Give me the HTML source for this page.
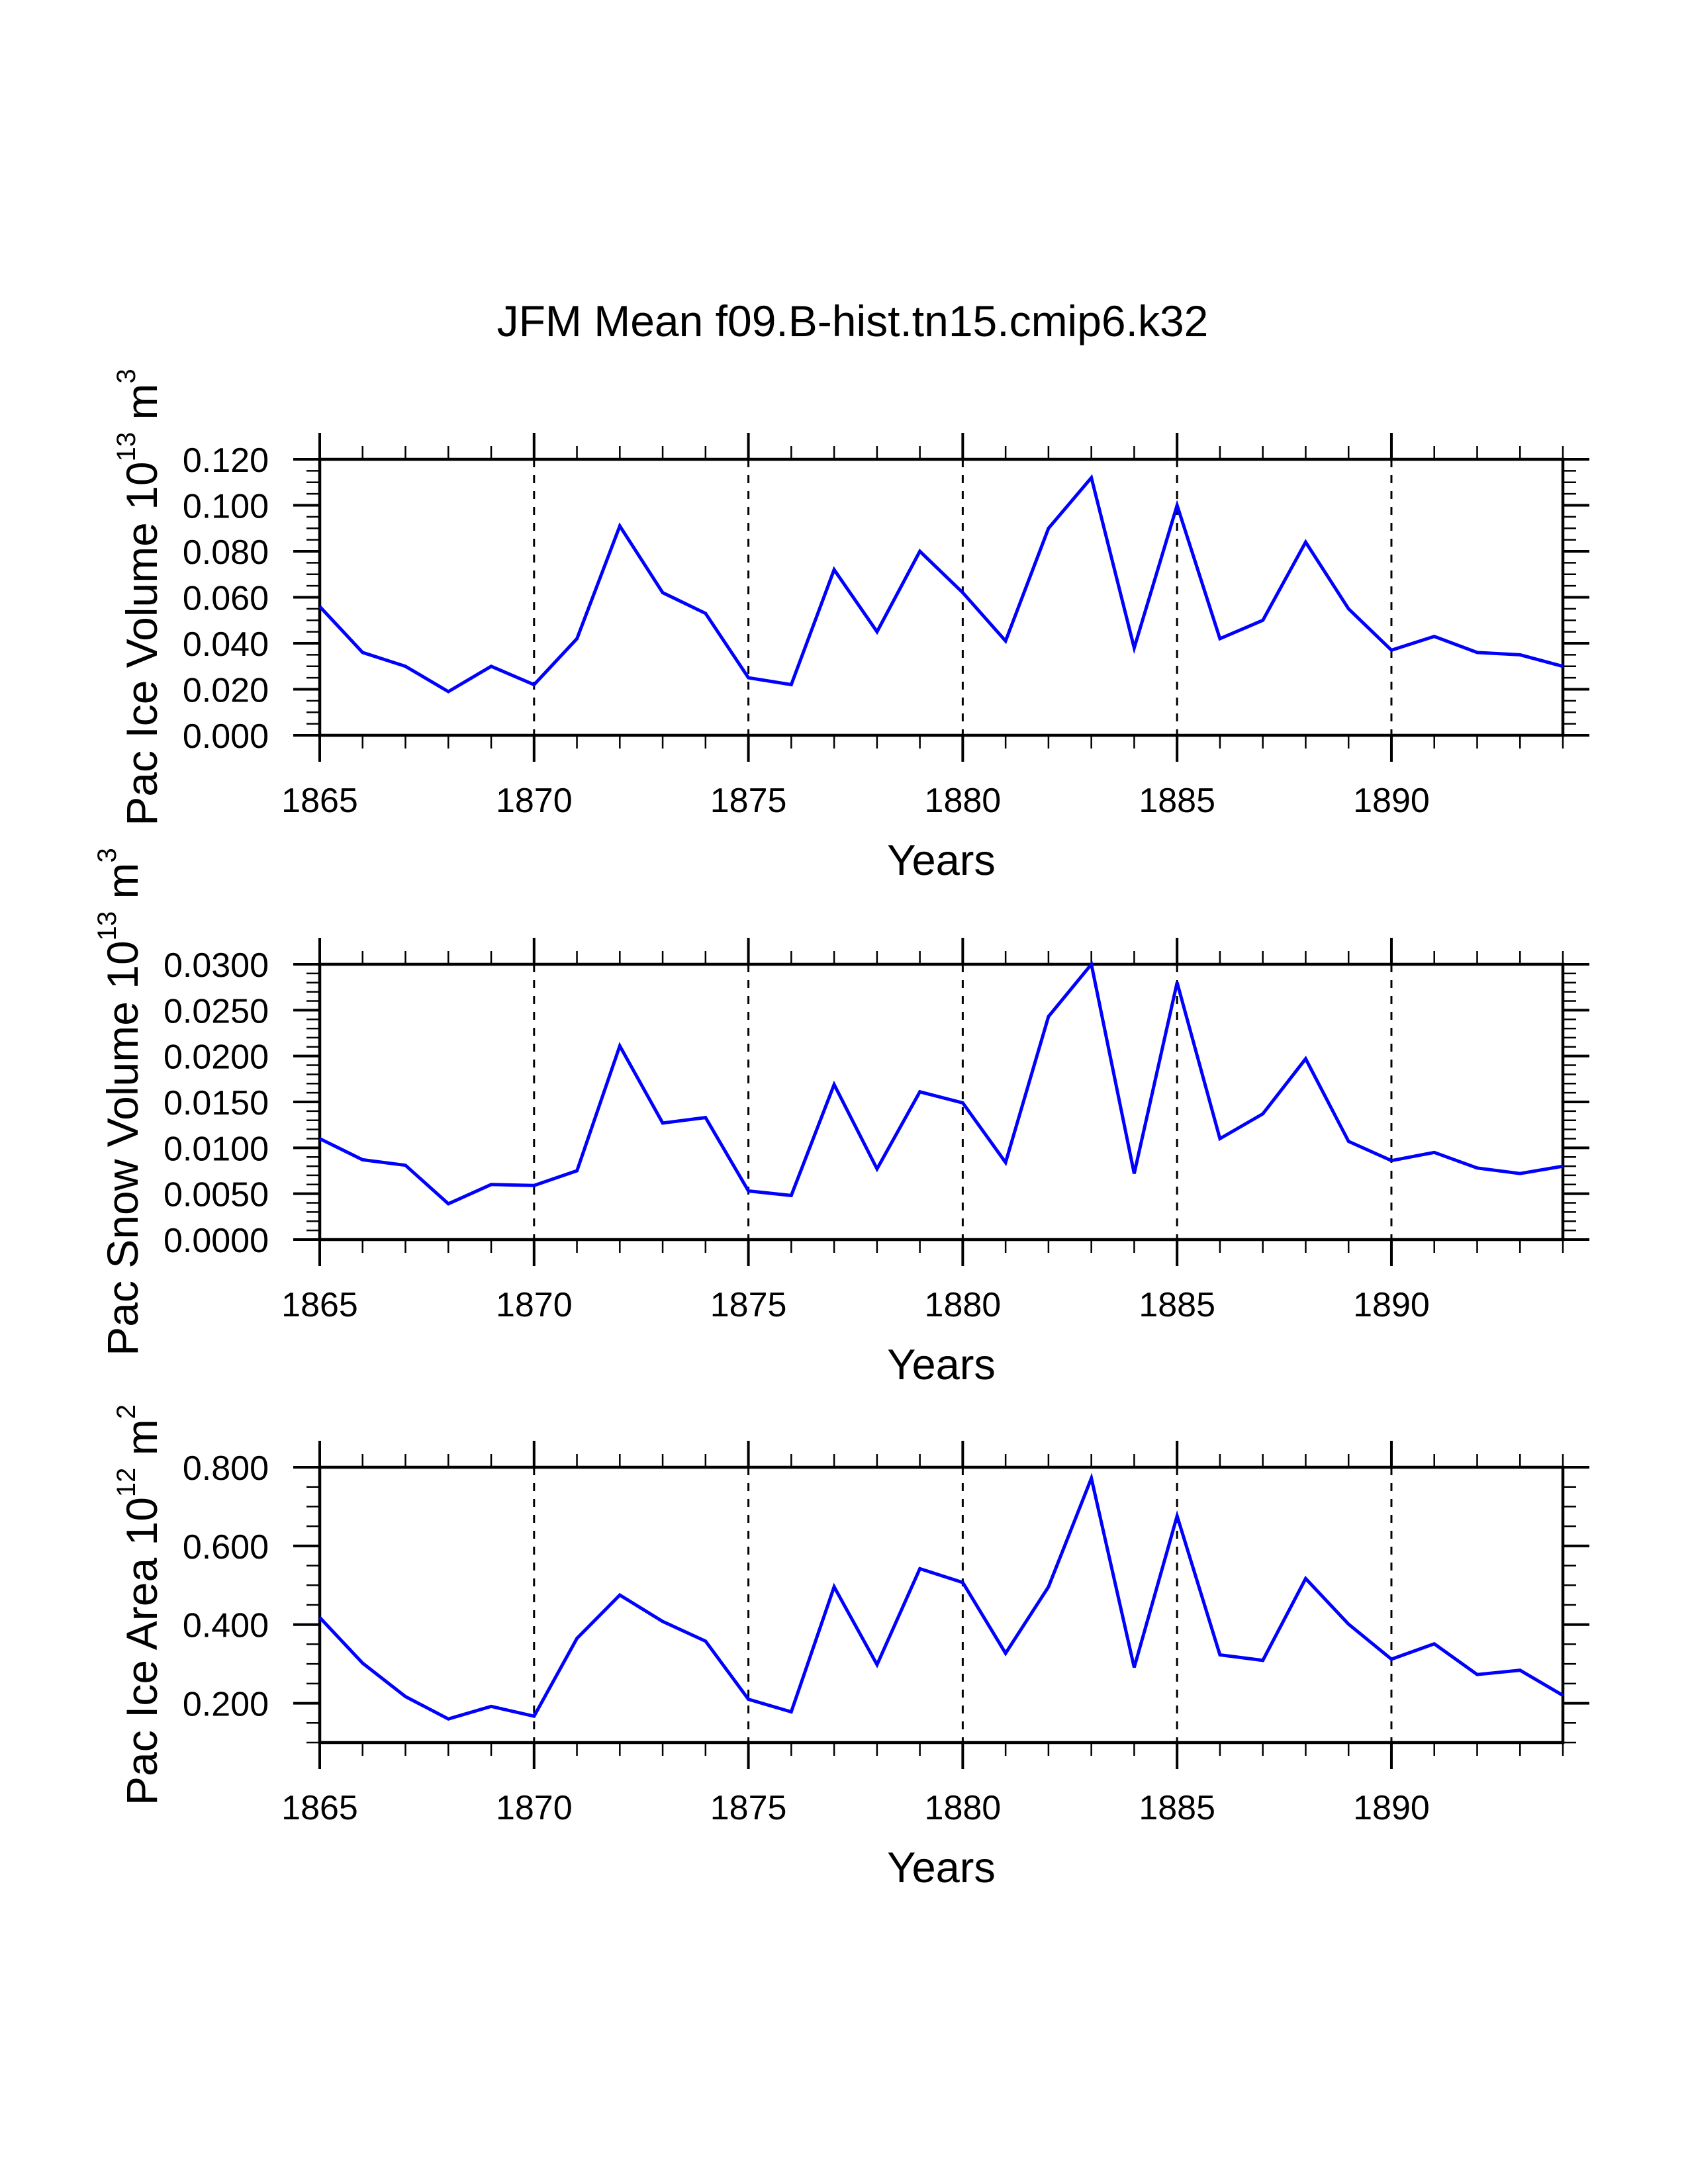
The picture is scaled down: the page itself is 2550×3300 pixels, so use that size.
<!DOCTYPE html>
<html><head><meta charset="utf-8"><title>JFM Mean f09.B-hist.tn15.cmip6.k32</title>
<style>html,body{margin:0;padding:0;background:#fff}svg{display:block}text{font-family:"Liberation Sans",Arial,sans-serif;fill:#000}</style>
</head><body>
<svg id="chart" xmlns="http://www.w3.org/2000/svg" width="2550" height="3300" viewBox="0 0 2550 3300">
<rect x="0" y="0" width="2550" height="3300" fill="#fff"/>
<text x="1288" y="508" font-size="66" text-anchor="middle">JFM Mean f09.B-hist.tn15.cmip6.k32</text>
</svg>
<script>
const years = [1865,1866,1867,1868,1869,1870,1871,1872,1873,1874,1875,1876,1877,1878,1879,1880,1881,1882,1883,1884,1885,1886,1887,1888,1889,1890,1891,1892,1893,1894];
const iceVolume = [0.056,0.036,0.030,0.019,0.030,0.022,0.042,0.091,0.062,0.053,0.025,0.022,0.072,0.045,0.080,0.062,0.041,0.090,0.112,0.038,0.100,0.042,0.050,0.084,0.055,0.037,0.043,0.036,0.035,0.030];
const snowVolume = [0.0110,0.0087,0.0081,0.0039,0.0060,0.0059,0.0075,0.0211,0.0127,0.0133,0.0053,0.0048,0.0169,0.0077,0.0161,0.0149,0.0084,0.0243,0.0300,0.0072,0.0280,0.0110,0.0137,0.0197,0.0107,0.0086,0.0095,0.0078,0.0072,0.0080];
const iceArea = [0.418,0.302,0.217,0.160,0.192,0.167,0.365,0.475,0.408,0.358,0.210,0.178,0.496,0.298,0.542,0.507,0.327,0.496,0.772,0.291,0.676,0.323,0.309,0.517,0.401,0.312,0.351,0.273,0.284,0.220];
const xTickLabels = ["1865","1870","1875","1880","1885","1890"];
const iceVolumeTicks = ["0.000","0.020","0.040","0.060","0.080","0.100","0.120"];
const snowVolumeTicks = ["0.0000","0.0050","0.0100","0.0150","0.0200","0.0250","0.0300"];
const iceAreaTicks = ["0.200","0.400","0.600","0.800"];

const NS = "http://www.w3.org/2000/svg";
const svg = document.getElementById('chart');
const X0 = 483, X1 = 2361, XMIN = 1865, XMAX = 1894;
function xs(v){ return X0 + (v - XMIN) * (X1 - X0) / (XMAX - XMIN); }
function mk(tag, attrs, parent){ const e = document.createElementNS(NS, tag); for (const k in attrs) e.setAttribute(k, attrs[k]); (parent||svg).appendChild(e); return e; }

const panels = [
  {name:'ice-volume', top:694, bot:1111, ymin:0, ymax:0.12, major:0.02, minor:0.005, ticks:iceVolumeTicks, data:iceVolume, tx:237, title:['Pac Ice Volume 10','13',' m','3']},
  {name:'snow-volume', top:1457, bot:1873, ymin:0, ymax:0.03, major:0.005, minor:0.001, ticks:snowVolumeTicks, data:snowVolume, tx:208, title:['Pac Snow Volume 10','13',' m','3']},
  {name:'ice-area', top:2217, bot:2633, ymin:0.1, ymax:0.8, major:0.2, minor:0.05, ticks:iceAreaTicks, data:iceArea, tx:237, title:['Pac Ice Area 10','12',' m','2']}
];

panels.forEach(p => {
  const g = mk('g', {});
  
  
  const ys = v => p.bot - (v - p.ymin) * (p.bot - p.top) / (p.ymax - p.ymin);
  // grid
  for (let yr = 1870; yr < XMAX; yr += 5) {
    const l = mk('line', {x1:xs(yr), x2:xs(yr), y1:p.top, y2:p.bot, stroke:'#000', 'stroke-width':3, 'stroke-dasharray':'12 12'}, g);
    
    
  }
  // x ticks
  for (let yr = XMIN; yr <= XMAX; yr++) {
    const maj = (yr - XMIN) % 5 === 0;
    const len = maj ? 40 : 20, w = maj ? 4 : 2.5;
    const t1 = mk('line', {x1:xs(yr), x2:xs(yr), y1:p.bot, y2:p.bot+len, stroke:'#000', 'stroke-width':w}, g);
    
    
    const t2 = mk('line', {x1:xs(yr), x2:xs(yr), y1:p.top, y2:p.top-len, stroke:'#000', 'stroke-width':w}, g);
    
    
  }
  xTickLabels.forEach(s => {
    const t = mk('text', {x:xs(+s), y:p.bot+116, 'font-size':52, 'text-anchor':'middle'}, g);
    t.textContent = s;
    
    
  });
  // y ticks
  const nMin = Math.round((p.ymax - p.ymin) / p.minor);
  const ratio = Math.round(p.major / p.minor);
  const off = Math.round(((Math.ceil(p.ymin / p.major - 1e-9) * p.major) - p.ymin) / p.minor);
  for (let i = 0; i <= nMin; i++) {
    const v = p.ymin + i * p.minor;
    const maj = ((i - off) % ratio + ratio) % ratio === 0;
    const len = maj ? 40 : 20, w = maj ? 4 : 2.5;
    const a = mk('line', {x1:X0-len, x2:X0, y1:ys(v), y2:ys(v), stroke:'#000', 'stroke-width':w}, g);
    
    
    const b = mk('line', {x1:X1, x2:X1+len, y1:ys(v), y2:ys(v), stroke:'#000', 'stroke-width':w}, g);
    
    
  }
  p.ticks.forEach(s => {
    const t = mk('text', {x:406, y:ys(+s)+19, 'font-size':52, 'text-anchor':'end'}, g);
    t.textContent = s;
    
    
  });
  // frame
  const fr = mk('rect', {x:X0, y:p.top, width:X1-X0, height:p.bot-p.top, fill:'none', stroke:'#000', 'stroke-width':4.5}, g);
  
  
  // series
  const pts = years.map((yr, i) => xs(yr).toFixed(1) + ',' + ys(p.data[i]).toFixed(1)).join(' ');
  const pl = mk('polyline', {points:pts, fill:'none', stroke:'#0000ff', 'stroke-width':5, 'stroke-linejoin':'miter'}, g);
  
  
  // x axis title
  const xt = mk('text', {x:(X0+X1)/2, y:p.bot+211, 'font-size':65, 'text-anchor':'middle'}, g);
  xt.textContent = 'Years';
  
  
  // y axis title
  const cy = (p.top + p.bot) / 2;
  const yt = mk('text', {x:0, y:0, 'font-size':66, 'text-anchor':'middle', transform:'translate(' + p.tx + ',' + cy + ') rotate(-90)'}, g);
  
  
  p.title.forEach((s, i) => {
    const sp = mk('tspan', {}, yt);
    if (i % 2 === 1) { sp.setAttribute('font-size', '40'); sp.setAttribute('dy', '-33'); }
    else if (i > 0) { sp.setAttribute('dy', '33'); }
    sp.textContent = s;
  });
});
</script>
</body></html>
